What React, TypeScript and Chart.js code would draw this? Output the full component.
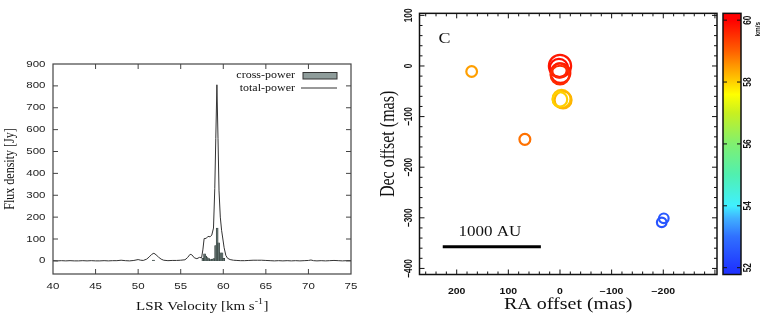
import React, { useEffect, useRef } from "react";
import { Chart, registerables } from "chart.js";

Chart.register(...registerables);

// ---------------- data: spectrum (left panel) ----------------
const tpVel = [
  40.0, 40.5, 41.0, 41.5, 42.0, 42.5, 43.0, 43.5, 44.0, 44.5, 45.0, 45.5, 46.0, 46.5, 47.0, 47.5,
  48.0, 48.5, 49.0, 49.5, 50.0, 50.3, 50.6, 51.0, 51.3, 51.6, 51.85, 52.1, 52.4, 52.7, 53.0, 53.5,
  54.0, 54.5, 55.0, 55.5, 55.8, 56.1, 56.3, 56.6, 56.9, 57.2, 57.45, 57.6, 57.75, 58.0, 58.2, 58.45,
  58.65, 58.85, 59.0, 59.12, 59.25, 59.38, 59.5, 59.65, 59.8, 59.95, 60.1, 60.3, 60.5, 60.8, 61.2,
  61.6, 62.0, 62.5, 63.0, 63.5, 64.0, 64.5, 65.0, 65.5, 66.0, 66.5, 67.0, 67.5, 68.0, 68.5, 69.0,
  69.5, 70.0, 70.3, 70.6, 71.0, 71.5, 72.0, 72.5, 73.0, 73.5, 74.0, 74.5, 75.0,
];
const tpFlux = [
  1, 0, 1, 0, 1, 0, 0, 1, 0, 1, 0, 0, 1, 0, 1, 1,
  3, 1, 0, 2, 6, 3, 2, 8, 18, 30, 35, 28, 17, 8, 3, 1,
  2, 2, 3, 5, 15, 30, 28, 14, 10, 16, 14, 50, 102, 103, 112, 110,
  118, 150, 330, 560, 805, 560, 320, 200, 140, 100, 60, 25, 12, 6, 3,
  2, 1, 1, 2, 3, 3, 3, 2, 1, 0, 1, 0, 1, 0, 1, 0,
  1, 2, 4, 1, 0, 1, 0, 1, 2, 1, 0, 1, 1,
];
const cpVel = [51.8, 57.6, 57.8, 57.95, 58.1, 58.3, 58.5, 58.7, 58.9, 59.1, 59.28, 59.45, 59.65, 59.85, 60.05];
const cpFlux = [4, 12, 32, 22, 15, 10, 6, 8, 10, 70, 150, 82, 37, 37, 12];
const specXRange = [40, 75];
const specYRange = [-60, 900];
const specXStep = 5;
const specYStep = 100;
const specLabels = ["cross-power", "total-power"];
const specXTitle = ["LSR Velocity [km s", "-1", "]"];
const specYTitle = "Flux density [Jy]";

// ---------------- data: maser spots (right panel) ----------------
const spotRA = [171, 68, 0, 2, 1, -1, 0, -3, -6, 0, -201, -197];
const spotDec = [-11, -145, 0, -4, -9, -14, -18, -65, -67, -66, -301, -309];
const spotVel = [58.45, 58.85, 59.75, 59.85, 59.6, 59.7, 59.55, 58.1, 58.25, 58.0, 52.6, 52.5];
const spotFlux = [11, 12, 160, 90, 40, 110, 95, 84, 70, 40, 6, 6];
const raRange = [-304, 272];
const decRange = [-412, 104];
const cbRange = [51.78, 60.22];
const cbTicks = [52, 54, 56, 58, 60];
const cbUnit = "km/s";
const scaleBarRA = [227, 37];
const scaleBarDec = [-357, -357];
const scaleBarText = "1000 AU";
const panelLabel = "C";
const raTitle = "RA offset (mas)";
const decTitle = "Dec offset (mas)";

// ---------------- styling helpers ----------------
const SERIF = '"Liberation Serif", "Times New Roman", Times, serif';
const SANS = '"Liberation Sans", Arial, Helvetica, sans-serif';
const SQ = 0.8;

const cmapStops: [number, string][] = [
  [51.78, "#1e30ff"],
  [52.0, "#2038ff"],
  [53.0, "#3070ff"],
  [53.6, "#40b0ff"],
  [54.0, "#40f0ff"],
  [55.0, "#50f0b0"],
  [56.0, "#80f070"],
  [57.0, "#c8f020"],
  [57.6, "#ffff00"],
  [58.0, "#ffd000"],
  [58.5, "#ff9a00"],
  [59.0, "#ff6000"],
  [59.5, "#ff3000"],
  [60.0, "#ff0000"],
  [60.22, "#ff0000"],
];

function hexRgb(h: string) {
  const n = parseInt(h.slice(1), 16);
  return [(n >> 16) & 255, (n >> 8) & 255, n & 255];
}
function cmap(v: number) {
  if (v <= cmapStops[0][0]) return cmapStops[0][1];
  for (let i = 1; i < cmapStops.length; i++) {
    if (v <= cmapStops[i][0]) {
      const [v0, c0] = cmapStops[i - 1];
      const [v1, c1] = cmapStops[i];
      const t = (v - v0) / (v1 - v0);
      const a = hexRgb(c0), b = hexRgb(c1);
      const c = a.map((x, k) => Math.round(x + (b[k] - x) * t));
      return `rgb(${c[0]},${c[1]},${c[2]})`;
    }
  }
  return cmapStops[cmapStops.length - 1][1];
}

function fmtMinus(v: number) {
  return v < 0 ? "\u2212" + Math.abs(v) : String(v);
}

function drawText(
  ctx: CanvasRenderingContext2D, s: string, x: number, y: number, font: string,
  align: CanvasTextAlign, baseline: CanvasTextBaseline, rotated = false, color = "#111"
) {
  ctx.save();
  ctx.translate(x, y);
  if (rotated) {
    ctx.rotate(-Math.PI / 2);
    ctx.scale(SQ, 1);
  } else {
    ctx.scale(1, SQ);
  }
  ctx.font = font;
  ctx.textAlign = align;
  ctx.textBaseline = baseline;
  ctx.fillStyle = color;
  ctx.fillText(s, 0, 0);
  ctx.restore();
}

function drawFrame(chart: any, opt: any) {
  const { ctx, chartArea: a } = chart;
  const xs = chart.scales.x, ys = chart.scales.y;
  ctx.save();
  ctx.strokeStyle = opt.color;
  ctx.lineWidth = opt.tickWidth;
  ctx.beginPath();
  const xt = (v: number, len: number) => {
    const p = xs.getPixelForValue(v);
    if (p < a.left + 1 || p > a.right - 1) return;
    ctx.moveTo(p, a.bottom); ctx.lineTo(p, a.bottom - len);
    ctx.moveTo(p, a.top); ctx.lineTo(p, a.top + len);
  };
  const yt = (v: number, len: number) => {
    const p = ys.getPixelForValue(v);
    if (p < a.top + 1 || p > a.bottom - 1) return;
    ctx.moveTo(a.left, p); ctx.lineTo(a.left + len, p);
    ctx.moveTo(a.right, p); ctx.lineTo(a.right - len, p);
  };
  xs.ticks.forEach((t: any) => xt(t.value, opt.major));
  ys.ticks.forEach((t: any) => yt(t.value, opt.major));
  if (opt.minorStep) {
    const st = opt.minorStep, mj = opt.majorStep;
    for (let v = Math.ceil(xs.min / st) * st; v <= xs.max; v += st) if (v % mj !== 0) xt(v, opt.minor);
    for (let v = Math.ceil(ys.min / st) * st; v <= ys.max; v += st) if (v % mj !== 0) yt(v, opt.minor);
  }
  ctx.stroke();
  ctx.lineWidth = opt.frameWidth;
  ctx.strokeRect(a.left, a.top, a.right - a.left, a.bottom - a.top);
  ctx.restore();
}

// ---------------- plugins ----------------
const spectrumDecor = {
  id: "spectrumDecor",
  afterDraw(chart: any) {
    const { ctx, chartArea: a } = chart;
    const xs = chart.scales.x, ys = chart.scales.y;
    drawFrame(chart, { color: "#444", tickWidth: 1, frameWidth: 1.2, major: 5 });
    const tf = `11.5px ${SANS}`;
    xs.ticks.forEach((t: any) =>
      drawText(ctx, String(t.value), xs.getPixelForValue(t.value), 286, tf, "center", "middle", false, "#222"));
    ys.ticks.forEach((t: any) =>
      drawText(ctx, String(t.value), 45.5, ys.getPixelForValue(t.value), tf, "right", "middle", false, "#222"));
    // x title with superscript
    const f1 = `15px ${SERIF}`, f2 = `10px ${SERIF}`;
    ctx.save();
    ctx.font = f1;
    const w1 = ctx.measureText(specXTitle[0]).width;
    const w3 = ctx.measureText(specXTitle[2]).width;
    ctx.font = f2;
    const w2 = ctx.measureText(specXTitle[1]).width;
    ctx.restore();
    const cx = (a.left + a.right) / 2;
    let x0 = cx - (w1 + w2 + w3) / 2;
    drawText(ctx, specXTitle[0], x0, 310, f1, "left", "alphabetic");
    drawText(ctx, specXTitle[1], x0 + w1, 304, f2, "left", "alphabetic");
    drawText(ctx, specXTitle[2], x0 + w1 + w2 + 0.5, 310, f1, "left", "alphabetic");
    // y title
    drawText(ctx, specYTitle, 10, (a.top + a.bottom) / 2, f1, "center", "middle", true);
    // legend
    const ds = chart.data.datasets;
    const lf = `12px ${SERIF}`;
    const tx = a.right - 56;
    drawText(ctx, ds[0].label, tx, a.top + 11.5, lf, "right", "middle");
    ctx.save();
    ctx.fillStyle = "#8e9c9a";
    ctx.fillRect(a.right - 48, a.top + 8.5, 34, 6.5);
    ctx.strokeStyle = "#333";
    ctx.lineWidth = 1;
    ctx.strokeRect(a.right - 48, a.top + 8.5, 34, 6.5);
    ctx.restore();
    drawText(ctx, ds[1].label, tx, a.top + 24, lf, "right", "middle");
    ctx.save();
    ctx.strokeStyle = ds[1].borderColor;
    ctx.lineWidth = 1;
    ctx.beginPath();
    ctx.moveTo(a.right - 50, a.top + 24);
    ctx.lineTo(a.right - 14, a.top + 24);
    ctx.stroke();
    ctx.restore();
  },
};

const mapDecor = {
  id: "mapDecor",
  afterDraw(chart: any) {
    const { ctx, chartArea: a } = chart;
    const xs = chart.scales.x, ys = chart.scales.y, cb = chart.scales.cb;
    drawFrame(chart, { color: "#111", tickWidth: 1, frameWidth: 1.5, major: 5, minor: 3, minorStep: 20, majorStep: 100 });
    const tf = `bold 10.5px ${SANS}`;
    xs.ticks.forEach((t: any) => {
      if (Math.abs(t.value) > 250) return;
      drawText(ctx, fmtMinus(t.value), xs.getPixelForValue(t.value), 292, tf, "center", "middle");
    });
    ys.ticks.forEach((t: any) =>
      drawText(ctx, fmtMinus(t.value), 29.5, ys.getPixelForValue(t.value), tf, "center", "middle", true));
    const f20 = `20px ${SERIF}`;
    drawText(ctx, raTitle, (a.left + a.right) / 2, 305, f20, "center", "middle");
    drawText(ctx, decTitle, 9, (a.top + a.bottom) / 2, f20, "center", "middle", true);
    drawText(ctx, panelLabel, a.left + 25, a.top + 26, `18px ${SERIF}`, "center", "middle");
    // scale bar label
    const mx = xs.getPixelForValue((scaleBarRA[0] + scaleBarRA[1]) / 2);
    const my = ys.getPixelForValue(scaleBarDec[0]);
    drawText(ctx, scaleBarText, mx - 2, my - 11, `17px ${SERIF}`, "center", "alphabetic");
    // colorbar
    const x0 = a.right + 6, x1 = a.right + 24;
    const yTop = cb.getPixelForValue(cb.max), yBot = cb.getPixelForValue(cb.min);
    const g = ctx.createLinearGradient(0, yBot, 0, yTop);
    cmapStops.forEach(([v, c]) => {
      const t = Math.min(1, Math.max(0, (v - cb.min) / (cb.max - cb.min)));
      g.addColorStop(t, c);
    });
    ctx.save();
    ctx.fillStyle = g;
    ctx.fillRect(x0, yTop, x1 - x0, yBot - yTop);
    ctx.strokeStyle = "#111";
    ctx.lineWidth = 1;
    ctx.beginPath();
    cbTicks.forEach((v) => {
      const p = cb.getPixelForValue(v);
      ctx.moveTo(x0, p); ctx.lineTo(x0 + 4, p);
      ctx.moveTo(x1, p); ctx.lineTo(x1 - 4, p);
    });
    ctx.stroke();
    ctx.lineWidth = 1.5;
    ctx.strokeRect(x0, yTop, x1 - x0, yBot - yTop);
    ctx.restore();
    cbTicks.forEach((v) =>
      drawText(ctx, String(v), x1 + 7, cb.getPixelForValue(v), tf, "center", "middle", true));
    drawText(ctx, cbUnit, x1 + 17, cb.getPixelForValue(cbTicks[cbTicks.length - 1]) + 9, `bold 8px ${SANS}`, "center", "middle", true);
  },
};

export default function App() {
  const leftRef = useRef<HTMLCanvasElement>(null);
  const rightRef = useRef<HTMLCanvasElement>(null);

  useEffect(() => {
    const left = new Chart(leftRef.current as HTMLCanvasElement, {
      type: "line",
      data: {
        datasets: [
          {
            type: "bar",
            label: specLabels[0],
            data: cpVel.map((v, i) => ({ x: v, y: cpFlux[i] })),
            backgroundColor: "#5f6f6c",
            borderColor: "#27302e",
            borderWidth: 0.5,
            barThickness: 2,
            order: 2,
          } as any,
          {
            type: "line",
            label: specLabels[1],
            data: tpVel.map((v, i) => ({ x: v, y: tpFlux[i] })),
            borderColor: "#333",
            borderWidth: 1,
            pointRadius: 0,
            tension: 0,
            order: 1,
          } as any,
        ],
      },
      options: {
        animation: false,
        responsive: false,
        devicePixelRatio: 1,
        layout: { padding: { top: 64, right: 29, left: 0, bottom: 0 } },
        plugins: { legend: { display: false }, tooltip: { enabled: false } },
        scales: {
          x: {
            type: "linear",
            offset: false,
            min: specXRange[0],
            max: specXRange[1],
            ticks: { display: false, stepSize: specXStep, includeBounds: false },
            grid: { display: false, offset: false },
            border: { display: false },
            afterFit: (s: any) => { s.height = 42; },
          },
          y: {
            type: "linear",
            min: specYRange[0],
            max: specYRange[1],
            ticks: { display: false, stepSize: specYStep, includeBounds: false },
            grid: { display: false },
            border: { display: false },
            afterFit: (s: any) => { s.width = 53; },
          },
        },
      } as any,
      plugins: [spectrumDecor],
    });

    const right = new Chart(rightRef.current as HTMLCanvasElement, {
      type: "scatter",
      data: {
        datasets: [
          {
            type: "scatter",
            label: "spots",
            data: spotRA.map((x, i) => ({ x, y: spotDec[i] })),
            pointRadius: spotFlux.map((f) => 3.3 + 0.62 * Math.sqrt(f)),
            pointBorderColor: spotVel.map(cmap),
            pointBackgroundColor: "rgba(0,0,0,0)",
            pointBorderWidth: 2.2,
          } as any,
          {
            type: "line",
            label: "scalebar",
            data: scaleBarRA.map((x, i) => ({ x, y: scaleBarDec[i] })),
            borderColor: "#000",
            borderWidth: 3,
            pointRadius: 0,
          } as any,
        ],
      },
      options: {
        animation: false,
        responsive: false,
        devicePixelRatio: 1,
        layout: { padding: { top: 6, right: 0, left: 0, bottom: 0 } },
        plugins: { legend: { display: false }, tooltip: { enabled: false } },
        scales: {
          x: {
            type: "linear",
            reverse: true,
            min: raRange[0],
            max: raRange[1],
            ticks: { display: false, stepSize: 100, includeBounds: false },
            grid: { display: false },
            border: { display: false },
            afterFit: (s: any) => { s.height = 41.5; },
          },
          y: {
            type: "linear",
            min: decRange[0],
            max: decRange[1],
            ticks: { display: false, stepSize: 100, includeBounds: false },
            grid: { display: false },
            border: { display: false },
            afterFit: (s: any) => { s.width = 39.5; },
          },
          cb: {
            type: "linear",
            axis: "y",
            position: "right",
            min: cbRange[0],
            max: cbRange[1],
            ticks: { display: false, stepSize: 2, includeBounds: false },
            grid: { display: false },
            border: { display: false },
            afterFit: (s: any) => { s.width = 46; },
          },
        },
      } as any,
      plugins: [mapDecor],
    });

    return () => {
      left.destroy();
      right.destroy();
    };
  }, []);

  return (
    <div style={{ position: "absolute", left: 0, top: 0, width: 763, height: 316, background: "#fff", overflow: "hidden" }}>
      <canvas ref={leftRef} width={380} height={316} style={{ position: "absolute", left: 0, top: 0, width: 380, height: 316 }} />
      <canvas ref={rightRef} width={383} height={316} style={{ position: "absolute", left: 380, top: 0, width: 383, height: 316 }} />
    </div>
  );
}
